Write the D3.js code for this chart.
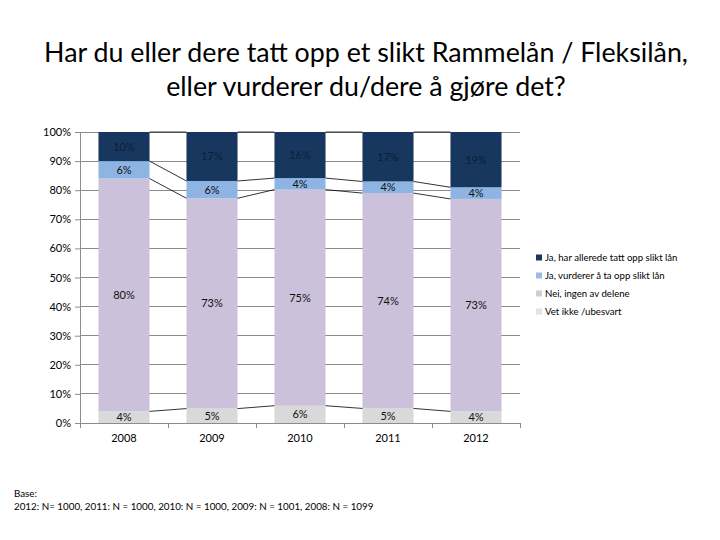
<!DOCTYPE html>
<html><head><meta charset="utf-8">
<script src="https://cdn.jsdelivr.net/npm/d3@7"></script>
<style>body{margin:0;background:#fff}svg{display:block}</style>
</head><body>
<svg id="c" width="720" height="540"></svg>
<script>
const years = ["2008","2009","2010","2011","2012"];
const vetIkke = [4, 5, 6, 5, 4];
const nei = [80, 73, 75, 74, 73];
const jaVurderer = [6, 6, 4, 4, 4];
const jaHar = [10, 17, 16, 17, 19];
const seriesNames = ["Vet ikke /ubesvart","Nei, ingen av delene","Ja, vurderer å ta opp slikt lån","Ja, har allerede tatt opp slikt lån"];
const yTicks = [0,0.1,0.2,0.3,0.4,0.5,0.6,0.7,0.8,0.9,1];
const titleLines = ["Har du eller dere tatt opp et slikt Rammelån / Fleksilån,","eller vurderer du/dere å gjøre det?"];
const baseLines = ["Base:","2012: N= 1000, 2011: N = 1000, 2010: N = 1000, 2009: N = 1001, 2008: N = 1099"];

const fillColors = ["#D9D9D9","#CCC1DA","#8DB4E3","#17375E"];
const legendColors = ["#E3E3E3","#CFCFCF","#9DBBE0","#17375E"];
const font = "Lato, 'Open Sans', sans-serif";

const svg = d3.select("#c");
const keys = ["v","n","jv","jh"];
const table = years.map((y,i)=>({year:y, v:vetIkke[i], n:nei[i], jv:jaVurderer[i], jh:jaHar[i]}));
const stack = d3.stack().keys(keys).offset(d3.stackOffsetExpand)(table);

const x = d3.scaleBand().domain(years).range([80,520]).paddingInner(0.42).paddingOuter(0.21);
const y = d3.scaleLinear().domain([0,1]).range([423,132]);

// title
svg.append("g").selectAll("text").data(titleLines).join("text")
  .attr("x",366).attr("y",(d,i)=>62+i*34).attr("text-anchor","middle")
  .attr("font-family",font).attr("font-size",26.8).attr("fill","#000").text(d=>d);

// gridlines
svg.append("g").selectAll("line").data(yTicks).join("line")
  .attr("x1",80).attr("x2",520).attr("y1",d=>y(d)).attr("y2",d=>y(d))
  .attr("stroke","#8c8c8c").attr("stroke-width",1).attr("shape-rendering","crispEdges");

// y axis
const yAxis = d3.axisLeft(y).tickValues(yTicks).tickFormat(d3.format(".0%")).tickSize(5).tickPadding(4);
const ya = svg.append("g").attr("transform","translate(80,0)").call(yAxis);
ya.select(".domain").attr("stroke","#8c8c8c");
ya.selectAll(".tick line").attr("stroke","#8c8c8c");
ya.selectAll("text").attr("font-family",font).attr("font-size",11).attr("fill","#000");

// x axis
const xAxis = d3.axisBottom(x).tickSize(0).tickPadding(11);
const xa = svg.append("g").attr("transform","translate(0,423)").call(xAxis);
xa.select(".domain").attr("stroke","#8c8c8c");
xa.selectAll("text").attr("font-family",font).attr("font-size",11).attr("fill","#000");
const step = x.step();
const bounds = d3.range(years.length+1).map(i=>80+i*step);
svg.append("g").selectAll("line").data(bounds).join("line")
  .attr("x1",d=>d).attr("x2",d=>d).attr("y1",423).attr("y2",428)
  .attr("stroke","#8c8c8c").attr("shape-rendering","crispEdges");

// bars
const g = svg.append("g");
stack.forEach((s,si)=>{
  g.append("g").selectAll("rect").data(s).join("rect")
    .attr("x",d=>x(d.data.year)).attr("width",x.bandwidth())
    .attr("y",d=>y(d[1])).attr("height",d=>y(d[0])-y(d[1]))
    .attr("fill",fillColors[si]);
});

// series lines
const sl = svg.append("g");
stack.forEach((s,si)=>{
  for(let i=0;i<s.length-1;i++){
    sl.append("line")
      .attr("x1",x(years[i])+x.bandwidth()).attr("x2",x(years[i+1]))
      .attr("y1",y(s[i][1])).attr("y2",y(s[i+1][1]))
      .attr("stroke","#000").attr("stroke-width",0.8);
  }
});

// labels
const raw = [vetIkke, nei, jaVurderer, jaHar];
stack.forEach((s,si)=>{
  svg.append("g").selectAll("text").data(s).join("text")
    .attr("x",d=>x(d.data.year)+x.bandwidth()/2)
    .attr("y",d=>y((d[0]+d[1])/2)+4)
    .attr("text-anchor","middle").attr("font-family",font).attr("font-size",11)
    .attr("fill", si===3 ? "#0b1e38" : "#111")
    .text((d,i)=>raw[si][i]+"%");
});

// legend
const legOrder = [3,2,1,0];
const lg = svg.append("g").selectAll("g").data(legOrder).join("g")
  .attr("transform",(d,i)=>`translate(536,${258+i*18})`);
lg.append("rect").attr("x",0).attr("y",-3.5).attr("width",6).attr("height",6).attr("fill",d=>legendColors[d]);
lg.append("text").attr("x",9).attr("y",3).attr("font-family",font).attr("font-size",9.6).attr("fill","#000").text(d=>seriesNames[d]);

// base note
svg.append("g").selectAll("text").data(baseLines).join("text")
  .attr("x",14).attr("y",(d,i)=>497+i*13)
  .attr("font-family",font).attr("font-size",9.8).attr("fill","#000").text(d=>d);
</script>
</body></html>
